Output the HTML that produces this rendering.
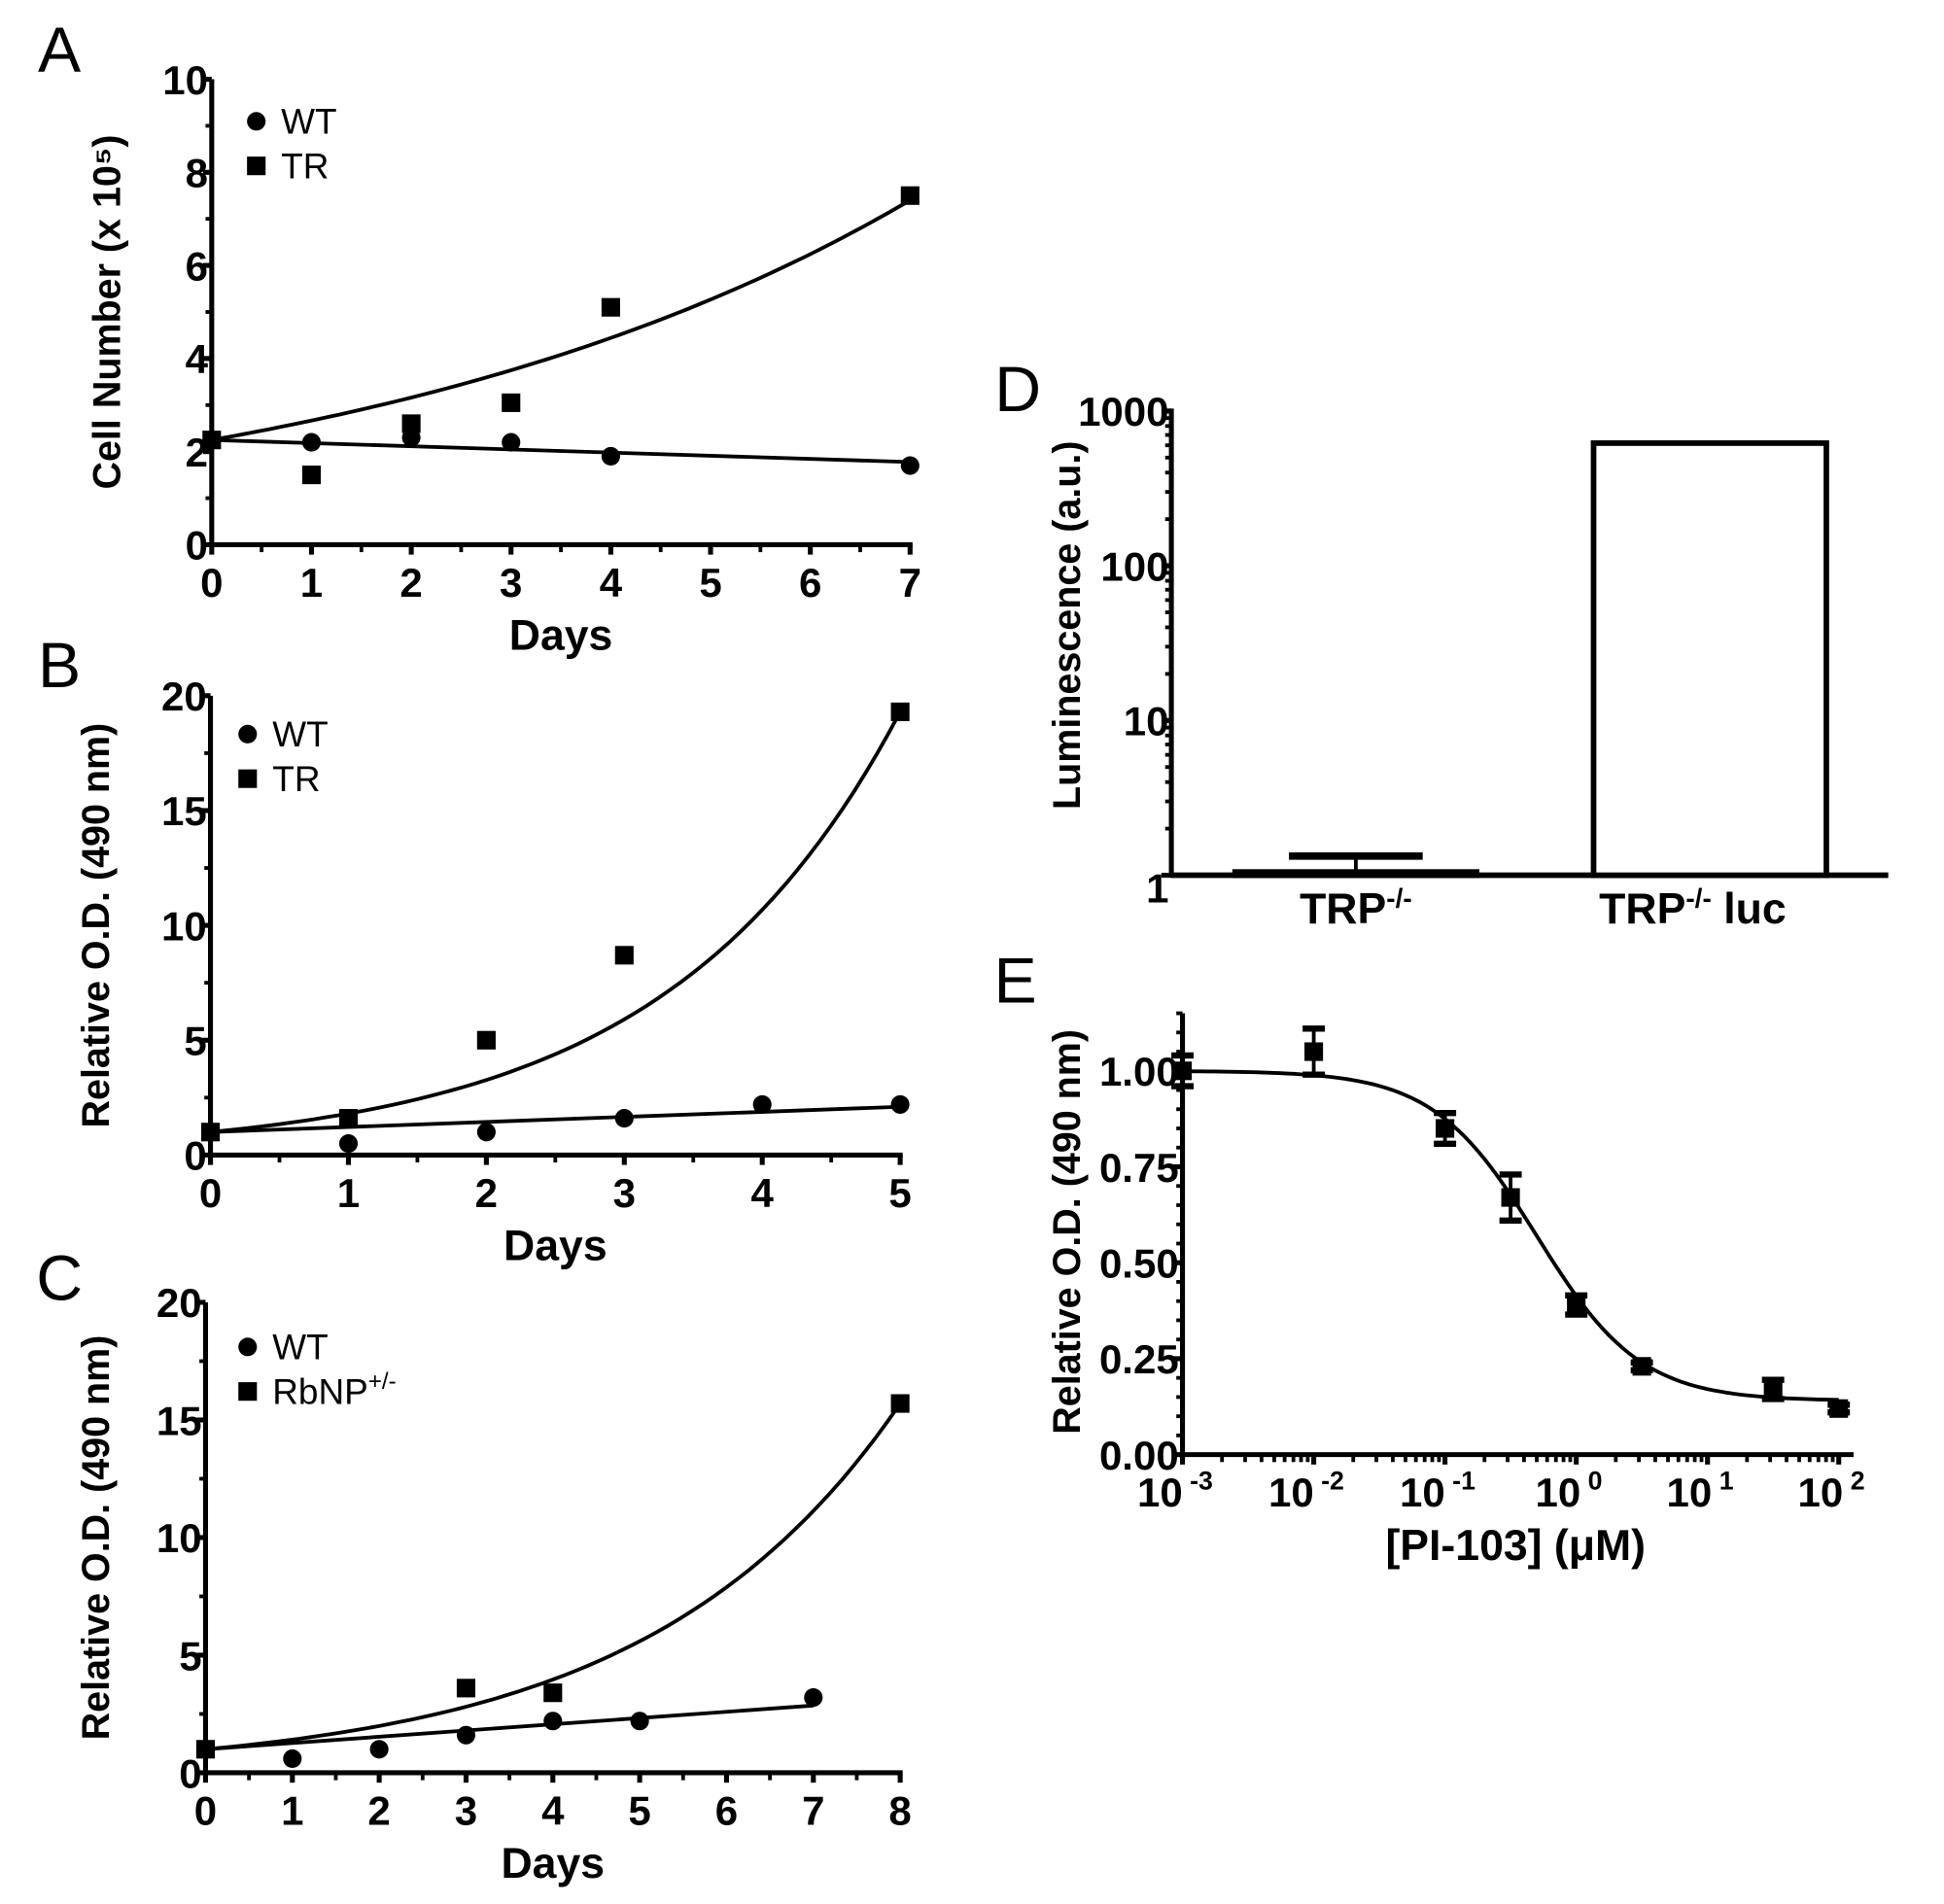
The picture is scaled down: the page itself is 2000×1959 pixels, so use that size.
<!DOCTYPE html>
<html><head><meta charset="utf-8"><style>
html,body{margin:0;padding:0;background:#fff;}
svg{display:block;font-family:"Liberation Sans",Arial,sans-serif;}
.n{font-family:"Liberation Sans Narrow","Liberation Sans",Arial,sans-serif;}
</style></head><body>
<svg id="fig" width="2000" height="1959" viewBox="0 0 1570 1538" preserveAspectRatio="none" xmlns="http://www.w3.org/2000/svg">
<g id="root"></g>
</svg>
<script>
// Panel A data
const aDays=[0,1,2,3,4,7];
const aWT=[2.25,2.2,2.3,2.2,1.9,1.7];
const aTRdays=[0,1,2,3,4,7];
const aTR=[2.25,1.5,2.6,3.05,5.1,7.5];
const aTicksY=[0,2,4,6,8,10];
const aTicksX=[0,1,2,3,4,5,6,7];
// Panel B data
const bDays=[0,1,2,3,4,5];
const bWT=[1,0.5,1,1.6,2.2,2.2];
const bTRdays=[0,1,2,3,5];
const bTR=[1,1.6,5,8.7,19.3];
const bTicksY=[0,5,10,15,20];
const bTicksX=[0,1,2,3,4,5];
// Panel C data
const cDays=[0,1,2,3,4,5,7];
const cWT=[1,0.6,1,1.6,2.2,2.2,3.2];
const cRbDays=[0,3,4,8];
const cRb=[1,3.6,3.4,15.7];
const cTicksY=[0,5,10,15,20];
const cTicksX=[0,1,2,3,4,5,6,7,8];
// Panel D data
const dCats=["TRP-/-","TRP-/- luc"];
const dVals=[1.05,620];
const dErr=[0.28,0];
const dTicks=[1,10,100,1000];
// Panel E data
const eConc=[0.001,0.01,0.1,0.316,1,3.16,31.6,100];
const eOD=[1.0,1.05,0.85,0.67,0.39,0.23,0.17,0.12];
const eSEM=[0.04,0.06,0.04,0.06,0.025,0.01,0.025,0.01];
const eTicksY=[0,0.25,0.5,0.75,1.0];
const eTicksXExp=[-3,-2,-1,0,1,2];

const NS="http://www.w3.org/2000/svg";
const root=document.getElementById('root');
function el(tag,attrs,parent,text){const e=document.createElementNS(NS,tag);for(const k in attrs)e.setAttribute(k,attrs[k]);if(text!==undefined)e.textContent=text;(parent||root).appendChild(e);return e;}
function lin(d0,d1,r0,r1){return v=>r0+(v-d0)*(r1-r0)/(d1-d0);}
function logs(d0,d1,r0,r1){return v=>r0+(Math.log10(v)-Math.log10(d0))*(r1-r0)/(Math.log10(d1)-Math.log10(d0));}

function label(txt,x,y,size,name,opts){
  opts=opts||{};
  const t=el('text',{x:x,y:y,'font-size':size,'font-weight':opts.bold?'bold':'normal','text-anchor':opts.anchor||'middle',transform:opts.rot?`rotate(-90 ${x} ${y})`:'',class:opts.narrow?'n':''},opts.parent,txt);
  
  
  return t;
}
function circle(g,x,y,name){const c=el('circle',{cx:x,cy:y,r:7.5,fill:'#000'},g);}
function square(g,x,y,name){const r=el('rect',{x:x-7.5,y:y-7.5,width:15,height:15,fill:'#000'},g);}

function linearPanel(cfg){
  const g=el('g',{});
  
  
  const sx=lin(cfg.xmin,cfg.xmax,cfg.x0,cfg.x1), sy=lin(0,cfg.ymax,cfg.y0,cfg.y1);
  const ya=el('line',{x1:cfg.x0,y1:cfg.y0+2,x2:cfg.x0,y2:cfg.y1,stroke:'#000','stroke-width':4},g);
  
  const xa=el('line',{x1:cfg.x0,y1:cfg.y0,x2:cfg.x1+2,y2:cfg.y0,stroke:'#000','stroke-width':4},g);
  
  cfg.ticksY.forEach(v=>{el('line',{x1:cfg.x0-7,y1:sy(v),x2:cfg.x0,y2:sy(v),stroke:'#000','stroke-width':4},g);
    label(String(v),cfg.x0-3,sy(v)+12,33,'y-tick-label',{bold:true,narrow:true,anchor:'end',parent:g});});
  for(let i=0;i<cfg.ticksY.length-1;i++){const m=(cfg.ticksY[i]+cfg.ticksY[i+1])/2;el('line',{x1:cfg.x0-5,y1:sy(m),x2:cfg.x0,y2:sy(m),stroke:'#000','stroke-width':3},g);}
  cfg.ticksX.forEach(v=>{el('line',{x1:sx(v),y1:cfg.y0,x2:sx(v),y2:cfg.y0+8,stroke:'#000','stroke-width':4},g);
    label(String(v),sx(v),cfg.y0+42,33,'x-tick-label',{bold:true,narrow:true,parent:g});});
  for(let i=0;i<cfg.ticksX.length-1;i++){const m=(cfg.ticksX[i]+cfg.ticksX[i+1])/2;el('line',{x1:sx(m),y1:cfg.y0,x2:sx(m),y2:cfg.y0+6,stroke:'#000','stroke-width':3},g);}
  label('Days',(cfg.x0+cfg.x1)/2,cfg.y0+85,35,'x-axis-title',{bold:true,narrow:true,parent:g});
  label(cfg.ytitle,cfg.ytx,(cfg.y0+cfg.y1)/2,31,'y-axis-title',{bold:true,rot:true,parent:g});
  label(cfg.letter,cfg.lx,cfg.ly,52,'panel-label',{parent:g});
  const A0=cfg.sqY[0], Aend=cfg.fitEnd, xe=cfg.sqX[cfg.sqX.length-1];
  const k=Math.log(Aend/A0)/xe;
  let d='';for(let i=0;i<=60;i++){const x=xe*i/60;d+=(i?'L':'M')+sx(x).toFixed(1)+','+sy(A0*Math.exp(k*x)).toFixed(1);}
  const p=el('path',{d:d,fill:'none',stroke:'#000','stroke-width':3},g);
  // WT line anchored at first point (least squares slope through it)
  const cx=cfg.ciX, cy=cfg.ciY, n=cx.length, y0v=cy[0];
  let num=0,den=0;cx.forEach((x,i)=>{num+=(x-cx[0])*(cy[i]-y0v);den+=(x-cx[0])*(x-cx[0]);});
  const sl=num/den, xl=cx[n-1];
  const l=el('line',{x1:sx(0),y1:sy(y0v),x2:sx(xl),y2:sy(y0v+sl*xl),stroke:'#000','stroke-width':3},g);
  cx.forEach((x,i)=>circle(g,sx(x),sy(cy[i]),'point-wt'));
  cfg.sqX.forEach((x,i)=>square(g,sx(x),sy(cfg.sqY[i]),'point-'+cfg.sqName));
  circle(g,cfg.legX,cfg.legY,'legend-marker-wt');
  label('WT',cfg.legX+20,cfg.legY+10,29,'legend-entry-wt',{anchor:'start',parent:g});
  square(g,cfg.legX,cfg.legY+36,'legend-marker-'+cfg.sqName);
  const t=label(cfg.sqLabel,cfg.legX+20,cfg.legY+46,29,'legend-entry-'+cfg.sqName,{anchor:'start',parent:g});
  if(cfg.sqSup){el('tspan',{'font-size':19,dy:-12},t,cfg.sqSup);}
  return g;
}

linearPanel({name:'panel-a',x0:171,x1:735,y0:440,y1:64,xmin:0,xmax:7,ymax:10,ticksY:aTicksY,ticksX:aTicksX,
  ytitle:'Cell Number (x 10\u2075)',ytx:97,letter:'A',lx:48,ly:58,ciX:aDays,ciY:aWT,sqX:aTRdays,sqY:aTR,fitEnd:7.4,
  sqName:'tr',sqLabel:'TR',legX:207,legY:98});
linearPanel({name:'panel-b',x0:170,x1:727,y0:933,y1:562,xmin:0,xmax:5,ymax:20,ticksY:bTicksY,ticksX:bTicksX,
  ytitle:'Relative O.D. (490 nm)',ytx:88,letter:'B',lx:48,ly:555,ciX:bDays,ciY:bWT,sqX:bTRdays,sqY:bTR,fitEnd:19.3,
  sqName:'tr',sqLabel:'TR',legX:200,legY:593});
linearPanel({name:'panel-c',x0:166,x1:727,y0:1432,y1:1052,xmin:0,xmax:8,ymax:20,ticksY:cTicksY,ticksX:cTicksX,
  ytitle:'Relative O.D. (490 nm)',ytx:88,letter:'C',lx:48,ly:1050,ciX:cDays,ciY:cWT,sqX:cRbDays,sqY:cRb,fitEnd:15.7,
  sqName:'rbnp',sqLabel:'RbNP',sqSup:'+/-',legX:200,legY:1088});

// Panel D
(function(){
  const g=el('g',{});
  const x0=946,y0=707,y1=332,sy=logs(1,1000,y0,y1);
  el('line',{x1:x0,y1:y0+2,x2:x0,y2:y1-2,stroke:'#000','stroke-width':4},g);
  el('line',{x1:x0,y1:y0,x2:1525,y2:y0,stroke:'#000','stroke-width':4.5},g);
  dTicks.forEach(v=>{el('line',{x1:x0-8,y1:sy(v),x2:x0,y2:sy(v),stroke:'#000','stroke-width':4},g);
    label(String(v),x0-2,sy(v)+(v===1?22:12),33,'y-tick-label',{bold:true,narrow:true,anchor:'end',parent:g});});
  for(let dec=1;dec<1000;dec*=10)for(let m=2;m<10;m++){el('line',{x1:x0-5,y1:sy(dec*m),x2:x0,y2:sy(dec*m),stroke:'#000','stroke-width':3},g);}
  const cx=[1095,1381],bw=[195,188];
  dCats.forEach((c,i)=>{
    const top=sy(dVals[i]);
    const r=el('rect',{x:cx[i]-bw[i]/2,y:top,width:bw[i],height:y0-top,fill:'#fff',stroke:'#000','stroke-width':4.5},g);
    
    if(dErr[i]>0){const et=sy(dVals[i]+dErr[i]);
      el('line',{x1:cx[i],y1:top,x2:cx[i],y2:et,stroke:'#000','stroke-width':3},g);
      el('line',{x1:cx[i]-54,y1:et,x2:cx[i]+54,y2:et,stroke:'#000','stroke-width':6},g);}
    const t=label('TRP',cx[i]-(i?14:0),746,35,'x-category-label',{bold:true,narrow:true,parent:g});
    el('tspan',{'font-size':22,dy:-13},t,'-/-');
    if(i)el('tspan',{'font-size':35,dy:13},t,' luc');
  });
  label('Luminescence (a.u.)',872,505,31,'y-axis-title',{bold:true,rot:true,parent:g});
  label('D',822,332,52,'panel-label',{parent:g});
})();

// Panel E
(function(){
  const g=el('g',{});
  const x0=955,x1=1485,y0=1175,y1=865,sx=logs(0.001,100,x0,x1),sy=lin(0,1,y0,y1);
  el('line',{x1:x0,y1:y0+2,x2:x0,y2:sy(1.15),stroke:'#000','stroke-width':4},g);
  el('line',{x1:x0,y1:y0,x2:x1+12,y2:y0,stroke:'#000','stroke-width':4},g);
  eTicksY.forEach(v=>{el('line',{x1:x0-8,y1:sy(v),x2:x0,y2:sy(v),stroke:'#000','stroke-width':4},g);
    label(v.toFixed(2),x0-3,sy(v)+12,33,'y-tick-label',{bold:true,narrow:true,anchor:'end',parent:g});});
  for(let v=0.05;v<1.16;v+=0.05){el('line',{x1:x0-5,y1:sy(v),x2:x0,y2:sy(v),stroke:'#000','stroke-width':3},g);}
  eTicksXExp.forEach(e=>{const x=sx(Math.pow(10,e));el('line',{x1:x,y1:y0,x2:x,y2:y0+8,stroke:'#000','stroke-width':4},g);
    const t=label('10',x-6,y0+42,33,'x-tick-label',{bold:true,narrow:true,parent:g});el('tspan',{'font-size':21,dy:-14},t,' '+e);});
  for(let e=-3;e<2;e++)for(let m=2;m<10;m++){const x=sx(m*Math.pow(10,e));el('line',{x1:x,y1:y0,x2:x,y2:y0+6,stroke:'#000','stroke-width':3},g);}
  const bot=0.14,top=1.0,ic50=0.5,hill=1.1;
  let d='';for(let i=0;i<=100;i++){const lx=-3+5*i/100,c=Math.pow(10,lx);const v=bot+(top-bot)/(1+Math.pow(c/ic50,hill));d+=(i?'L':'M')+sx(c).toFixed(1)+','+sy(v).toFixed(1);}
  const p=el('path',{d:d,fill:'none',stroke:'#000','stroke-width':3},g);
  eConc.forEach((c,i)=>{const x=sx(c);const yt=sy(eOD[i]+eSEM[i]),yb=sy(eOD[i]-eSEM[i]);
    el('line',{x1:x,y1:yt,x2:x,y2:yb,stroke:'#000','stroke-width':3},g);
    el('line',{x1:x-9,y1:yt,x2:x+9,y2:yt,stroke:'#000','stroke-width':5},g);
    el('line',{x1:x-9,y1:yb,x2:x+9,y2:yb,stroke:'#000','stroke-width':5},g);
    square(g,x,sy(eOD[i]),'point-od');});
  label('[PI-103] (\u03BCM)',1224,1260,35,'x-axis-title',{bold:true,narrow:true,parent:g});
  label('Relative O.D. (490 nm)',872,995,31,'y-axis-title',{bold:true,rot:true,parent:g});
  label('E',820,810,52,'panel-label',{parent:g});
})();
</script>
</body></html>
